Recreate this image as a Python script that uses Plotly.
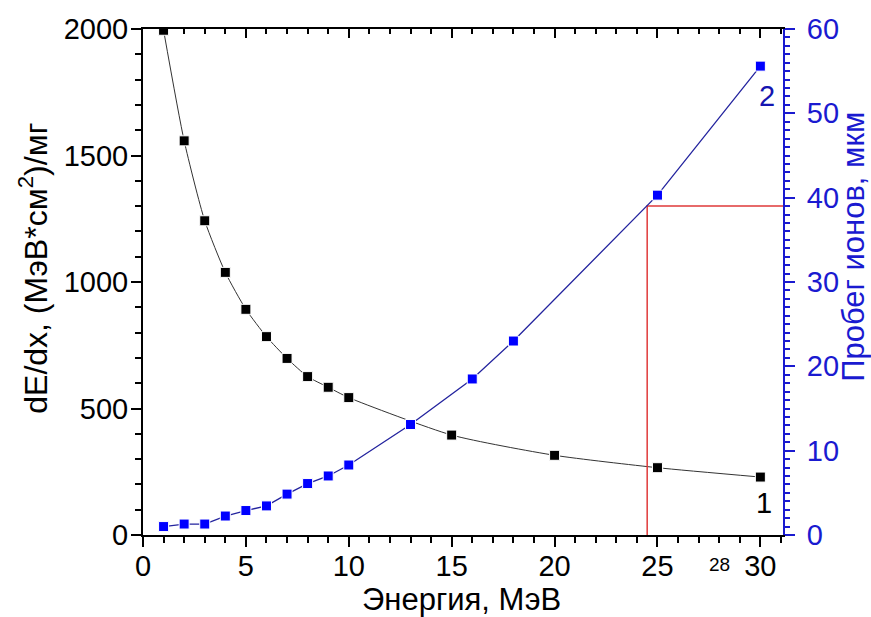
import plotly.graph_objects as go

# Stopping power dE/dx vs ion energy (curve 1, left axis)
energy_dedx = [1, 2, 3, 4, 5, 6, 7, 8, 9, 10, 15, 20, 25, 30]
dedx = [1995, 1558, 1242, 1038, 892, 784, 698, 626, 584, 543, 395, 315, 266, 229]

# Ion range vs ion energy (curve 2, right axis)
energy_range = [1, 2, 3, 4, 5, 6, 7, 8, 9, 10, 13, 16, 18, 25, 30]
ion_range = [1.0, 1.3, 1.3, 2.25, 2.9, 3.45, 4.85, 6.1, 7.0, 8.3, 13.1, 18.5, 23.0, 40.3, 55.6]

# Range read-out marker lines
readout_energy = 24.5
readout_range = 39.0

x_range = [0, 31.1]
x_ticks = [0, 5, 10, 15, 20, 25, 30]
y_ticks = [0, 500, 1000, 1500, 2000]
y2_ticks = [0, 10, 20, 30, 40, 50, 60]

FONT = "Liberation Sans, Arial, sans-serif"
BLUE = "#1a1ad0"
FS = 29
TS = 31

fig = go.Figure()

fig.add_trace(go.Scatter(
    x=[readout_energy, readout_energy, x_range[1]],
    y=[0, readout_range, readout_range],
    mode="lines", line=dict(color="#e03a3a", width=1.5),
    yaxis="y2", showlegend=False, hoverinfo="skip",
))

fig.add_trace(go.Scatter(
    x=energy_dedx, y=dedx, mode="lines+markers",
    line=dict(color="#333333", width=1, shape="spline", smoothing=0.6),
    marker=dict(symbol="square", size=10, color="black",
                line=dict(color="white", width=1)),
    showlegend=False,
))

fig.add_trace(go.Scatter(
    x=energy_range, y=ion_range, mode="lines+markers", yaxis="y2",
    line=dict(color="#23239e", width=1.3),
    marker=dict(symbol="square", size=10, color="#0000ff",
                line=dict(color="white", width=1)),
    showlegend=False,
))

# empty trace so that the top (inner-tick) axis is drawn
fig.add_trace(go.Scatter(x=[None], y=[None], xaxis="x2", showlegend=False,
                         hoverinfo="skip"))

tickfont = dict(family=FONT, size=FS, color="black")

fig.update_layout(
    width=871, height=617,
    margin=dict(l=143, r=88, t=29, b=82),
    paper_bgcolor="white", plot_bgcolor="white",
    xaxis=dict(
        range=x_range, tickvals=x_ticks, showgrid=False, zeroline=False,
        showline=True, linecolor="black", linewidth=2,
        ticks="outside", ticklen=10, tickwidth=2, tickcolor="black",
        minor=dict(dtick=1, ticks="outside", ticklen=6, tickwidth=1.5, tickcolor="black"),
        tickfont=tickfont, ticklabelstandoff=-6,
    ),
    xaxis2=dict(
        range=x_range, overlaying="x", side="top", tickvals=x_ticks,
        showgrid=False, zeroline=False, showticklabels=False,
        showline=True, linecolor="black", linewidth=2,
        ticks="inside", ticklen=9, tickwidth=2, tickcolor="black",
        minor=dict(dtick=1, ticks="inside", ticklen=5, tickwidth=1.5, tickcolor="black"),
    ),
    yaxis=dict(
        range=[0, 2000], tickvals=y_ticks, showgrid=False, zeroline=False,
        showline=True, linecolor="black", linewidth=2,
        ticks="outside", ticklen=10, tickwidth=2, tickcolor="black",
        minor=dict(dtick=100, ticks="outside", ticklen=6, tickwidth=1.5, tickcolor="black"),
        tickfont=tickfont, ticklabelstandoff=-3,
    ),
    yaxis2=dict(
        range=[0, 60], tickvals=y2_ticks, overlaying="y", side="right",
        showgrid=False, zeroline=False,
        showline=True, linecolor=BLUE, linewidth=2,
        ticks="outside", ticklen=10, tickwidth=2, tickcolor=BLUE,
        minor=dict(dtick=1, ticks="outside", ticklen=5, tickwidth=1.5, tickcolor=BLUE),
        tickfont=dict(family=FONT, size=FS, color=BLUE), ticklabelstandoff=6,
    ),
    annotations=[
        dict(text="Энергия, МэВ", xref="paper", yref="paper", x=0.497, y=-0.128,
             xanchor="center", yanchor="middle", showarrow=False,
             font=dict(family=FONT, size=TS, color="black")),
        dict(text="dE/dx, (МэВ*см<sup>2</sup>)/мг", xref="paper", yref="paper",
             x=-0.172, y=0.528, xanchor="center", yanchor="middle",
             textangle=-90, showarrow=False,
             font=dict(family=FONT, size=32, color="black")),
        dict(text="Пробег ионов, мкм", xref="paper", yref="paper",
             x=1.109, y=0.569, xanchor="center", yanchor="middle",
             textangle=-90, showarrow=False,
             font=dict(family=FONT, size=31, color=BLUE)),
        dict(text="1", x=30.2, y=126, xref="x", yref="y", showarrow=False,
             font=dict(family=FONT, size=FS, color="black")),
        dict(text="2", x=30.3, y=52, xref="x", yref="y2", showarrow=False,
             font=dict(family=FONT, size=FS, color="#1515b0")),
        dict(text="28", x=28, y=-0.034, xref="x", yref="paper",
             xanchor="center", yanchor="top", showarrow=False,
             font=dict(family=FONT, size=19, color="black")),
    ],
)

fig.write_html("out.html")
